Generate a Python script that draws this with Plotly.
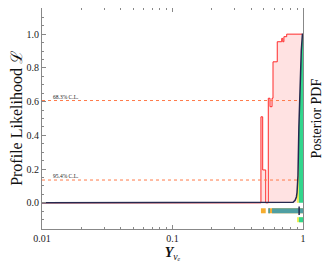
import plotly.graph_objects as go

# profile likelihood (step curve), x = left edge of each step
like_x = [0.01, 0.476, 0.491, 0.518, 0.542, 0.559, 0.579, 0.589, 0.635, 0.687, 0.70, 0.714, 0.75, 0.99]
like_y = [0.0, 0.51, 0.195, 0.0, 0.62, 0.57, 0.62, 0.836, 0.955, 0.975, 0.955, 0.985, 1.0, 1.0]

# marginal posterior pdf (normalised to peak)
post_x = [0.01, 0.8, 0.84, 0.87, 0.89, 0.9, 0.915, 0.93, 0.95, 0.97, 0.99, 1.0]
post_y = [0.0, 0.0, 0.004, 0.015, 0.035, 0.06, 0.16, 0.45, 0.72, 0.9, 1.0, 1.0]

cl_levels = [0.6065, 0.1353]
cl_labels = ['68.3% C.L.', '95.4% C.L.']

# intervals shown under the plot
pl95 = [(0.476, 0.518), (0.542, 1.0)]
pl68 = [(0.542, 0.559), (0.579, 1.0)]
bestfit = 0.934
bay95 = [(0.90, 1.0)]
bay68 = [(0.93, 1.0)]
row_pl, row_bay = -0.047, -0.1

ORANGE = '#f6ad2f'
TEAL = '#4f9fa2'
YELLOW = '#f3ee4c'
GREEN = '#31d68c'
NAVY = '#25294f'
FONT = 'Liberation Serif'

fig = go.Figure()

# profile likelihood
fig.add_trace(go.Scatter(x=like_x, y=like_y, mode='lines', line_shape='hv',
                         line=dict(color='#ff2a2a', width=1),
                         fill='tozeroy', fillcolor='rgba(255,110,110,0.2)'))

# CL lines
for lev, lab in zip(cl_levels, cl_labels):
    fig.add_trace(go.Scatter(x=[0.01, 1.0], y=[lev, lev], mode='lines',
                             line=dict(color='#ff7a4a', width=1, dash='dot')))
    fig.add_annotation(x=-1.93, y=lev, text=lab, showarrow=False, xanchor='left',
                       yanchor='bottom', yshift=-1, font=dict(size=5.5, color='#222', family=FONT))

# posterior fill (95% yellow, 68% green) then curve
i9, i93 = post_x.index(0.9), post_x.index(0.93)
fig.add_trace(go.Scatter(x=post_x[i9:i93 + 1], y=post_y[i9:i93 + 1], mode='lines',
                         line=dict(width=0), fill='tozeroy', fillcolor=YELLOW))
fig.add_trace(go.Scatter(x=post_x[i93:], y=post_y[i93:], mode='lines',
                         line=dict(width=0), fill='tozeroy', fillcolor=GREEN))
fig.add_trace(go.Scatter(x=post_x, y=post_y, mode='lines', line=dict(color=NAVY, width=1.5)))

# interval bars
def bars(ivals, row, color):
    for lo, hi in ivals:
        fig.add_trace(go.Scatter(x=[lo, hi], y=[row, row], mode='lines',
                                 line=dict(color=color, width=5)))

bars(pl95, row_pl, ORANGE)
bars(pl68, row_pl, TEAL)
bars(bay95, row_bay, YELLOW)
bars(bay68, row_bay, GREEN)
fig.add_trace(go.Scatter(x=[bestfit], y=[row_pl], mode='markers',
                         marker=dict(symbol='line-ns', size=6, line=dict(color=NAVY, width=1.5))))

minor_x = [k * 0.01 for k in range(2, 10)] + [k * 0.1 for k in range(2, 10)]

# page has an 8px body margin, so the figure is 8px smaller than the window
fig.update_layout(
    width=322, height=256,
    margin=dict(l=34, r=27, t=0, b=35),
    plot_bgcolor='white', paper_bgcolor='white',
    showlegend=False,
    font=dict(family=FONT, size=10, color='#222'),
    xaxis=dict(type='log', range=[-2, 0], showgrid=False, zeroline=False,
               tickvals=[0.01, 0.1, 1], ticktext=['0.01', '0.1', '1'],
               ticks='inside', ticklen=4, tickcolor='#888',
               minor=dict(tickvals=minor_x, ticks='inside', ticklen=2, tickcolor='#888'),
               showline=True, linecolor='#888', linewidth=1, mirror='ticks',
               title=dict(text='<b><i>Y</i></b><sub><i>νₑ</i></sub>', standoff=4,
                          font=dict(size=14, color='#111'))),
    yaxis=dict(range=[-0.155, 1.155], showgrid=False, zeroline=False,
               tickvals=[0, 0.2, 0.4, 0.6, 0.8, 1.0], tickformat='.1f',
               ticks='inside', ticklen=4, tickcolor='#888',
               minor=dict(dtick=0.05, ticks='inside', ticklen=2, tickcolor='#888'),
               showline=True, linecolor='#888', linewidth=1, mirror=True,
               title=dict(text='Profile Likelihood ℒ', standoff=2,
                          font=dict(size=16, color='#111'))),
)

fig.add_annotation(xref='paper', yref='paper', x=1.0, y=0.5, xanchor='center', xshift=13,
                   text='Posterior PDF', textangle=-90, showarrow=False,
                   font=dict(size=14, family=FONT, color='#111'))

fig.write_html("out.html")
